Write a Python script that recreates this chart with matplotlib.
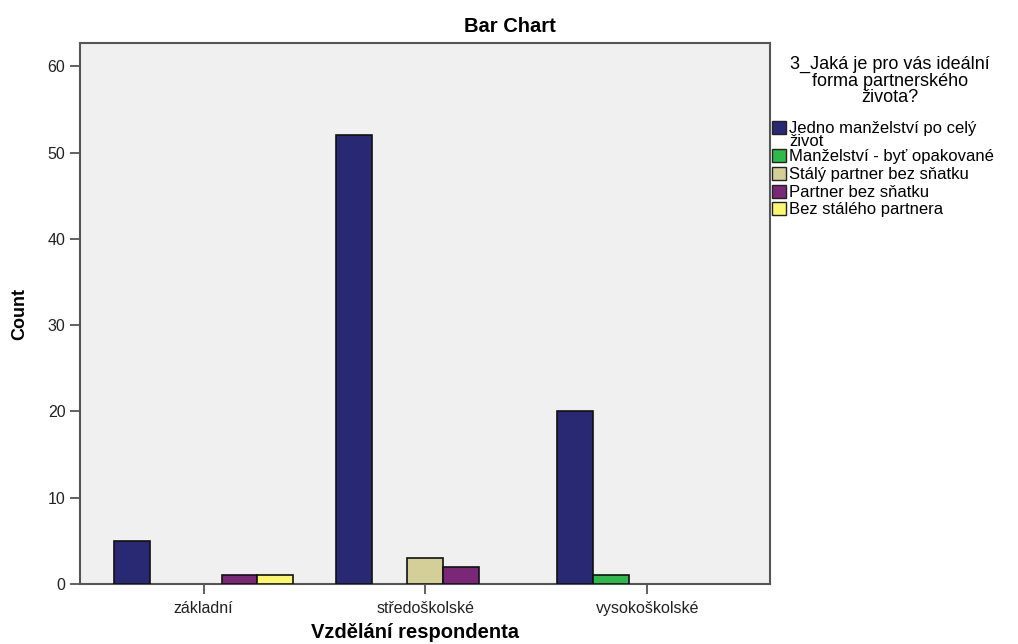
import numpy as np
import matplotlib.pyplot as plt
from matplotlib.patches import Rectangle

plt.rcParams['font.family'] = ['Liberation Sans', 'DejaVu Sans']

categories = ["základní", "středoškolské", "vysokoškolské"]
series_names = ["Jedno manželství po celý\nživot", "Manželství - byť opakované",
                "Stálý partner bez sňatku", "Partner bez sňatku", "Bez stálého partnera"]
series_values = [
    [5, 52, 20],
    [0, 0, 1],
    [0, 3, 0],
    [1, 2, 0],
    [1, 0, 0],
]
colors = ["#282873", "#2eb94a", "#d4cf98", "#7b2777", "#fbf870"]
legend_title = "3_Jaká je pro vás ideální\nforma partnerského\nživota?"

fig = plt.figure(figsize=(10.18, 6.44), dpi=100)
ax = fig.add_axes([80/1018, 1-584/644, 690/1018, 541/644])
ax.set_facecolor("#f0f0f0")

x = np.arange(len(categories))
w = 0.162
for i, (vals, c) in enumerate(zip(series_values, colors)):
    vals = np.array(vals, dtype=float)
    keep = vals > 0  # empty categories draw nothing
    ax.bar((x + (i - 2) * w)[keep], vals[keep], width=w, color=c,
           edgecolor="#111111", linewidth=1.2, zorder=3)

ax.set_xlim(-0.557, 2.553)
ax.set_ylim(0, 62.7)
ax.set_yticks([0, 10, 20, 30, 40, 50, 60])
ax.set_xticks(x)
ax.set_xticklabels(categories)
for s in ax.spines.values():
    s.set_color("#555555")
    s.set_linewidth(1.5)
ax.tick_params(axis="both", length=7, width=1.3, color="#555555",
               labelsize=11.5, labelcolor="#222222")
ax.tick_params(axis="x", pad=5)

ax.set_ylabel("Count", fontsize=13, fontweight="bold", labelpad=14)
fig.text(415/1018, 1-632/644, "Vzdělání respondenta", ha="center", va="center",
         fontsize=14.5, fontweight="bold")
fig.text(0.501, 1-27/644, "Bar Chart", ha="center", va="center",
         fontsize=14.5, fontweight="bold")

# legend
fig.text(890/1018, 1-81/644, legend_title, ha="center", va="center",
         fontsize=13, linespacing=0.95)
rows = [128, 156, 174, 192, 209]
for name, c, y in zip(series_names, colors, rows):
    fig.patches.append(Rectangle((772/1018, 1-(y+6)/644), 14/1018, 13/644,
                                 transform=fig.transFigure, facecolor=c,
                                 edgecolor="#222222", linewidth=1))
    fig.text(789/1018, 1-(y-7)/644, name, ha="left", va="top",
             fontsize=12, linespacing=0.8)

fig.savefig("out.png", dpi=100)
